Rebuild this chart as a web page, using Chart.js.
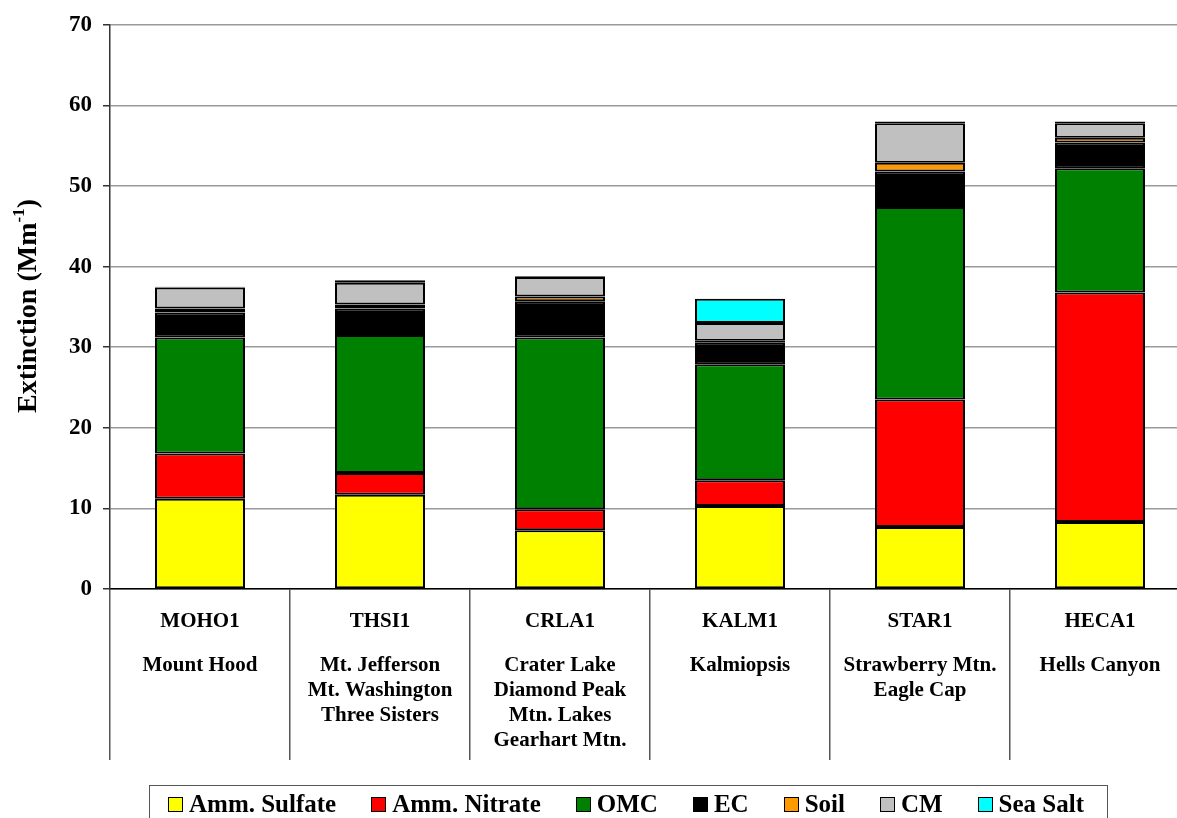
<!DOCTYPE html>
<html>
<head>
<meta charset="utf-8">
<script src="https://cdn.jsdelivr.net/npm/chart.js@4.4.1/dist/chart.umd.min.js"></script>
<style>
  html, body { margin: 0; padding: 0; background: #fff; overflow: hidden; }
  #wrap { position: relative; width: 1190px; height: 818px; }
  #legend {
    position: absolute; left: 149px; top: 785px; width: 959px; height: 40px;
    border: 1px solid #555; box-sizing: border-box;
    display: flex; align-items: flex-start; gap: 35px; padding-left: 18px; padding-top: 4px;
    font: bold 25px 'Liberation Serif', 'Times New Roman', serif; color: #000; line-height: 28px;
  }
  #legend .item { display: flex; align-items: center; white-space: nowrap; }
  #legend .sw { width: 13px; height: 13px; border: 1.5px solid #000; margin-right: 6px; }
</style>
</head>
<body>
<div id="wrap">
  <canvas id="barChart" width="1190" height="818"></canvas>
  <div id="legend"></div>
</div>
<script>
const categories = ['MOHO1', 'THSI1', 'CRLA1', 'KALM1', 'STAR1', 'HECA1'];
const siteNames = [
    ['Mount Hood'],
    ['Mt. Jefferson', 'Mt. Washington', 'Three Sisters'],
    ['Crater Lake', 'Diamond Peak', 'Mtn. Lakes', 'Gearhart Mtn.'],
    ['Kalmiopsis'],
    ['Strawberry Mtn.', 'Eagle Cap'],
    ['Hells Canyon']
];
const yTicks = [0, 10, 20, 30, 40, 50, 60, 70];

// extinction by species (Mm-1)
const ammSulfate = [11.2, 11.7, 7.3, 10.3, 7.7, 8.3];
const ammNitrate = [5.6, 2.7, 2.6, 3.2, 15.8, 28.5];
const omc = [14.4, 17.1, 21.3, 14.4, 23.9, 15.4];
const ec = [3.1, 3.3, 4.5, 2.7, 4.4, 3.2];
const soil = [0.5, 0.5, 0.6, 0.2, 1.1, 0.6];
const cm = [2.6, 2.7, 2.4, 2.2, 4.9, 1.8];
const seaSalt = [0.1, 0.3, 0.1, 3.0, 0.2, 0.2];

const series = [
    { label: 'Amm. Sulfate', data: ammSulfate, color: '#FFFF00' },
    { label: 'Amm. Nitrate', data: ammNitrate, color: '#FF0000' },
    { label: 'OMC', data: omc, color: '#008000' },
    { label: 'EC', data: ec, color: '#000000' },
    { label: 'Soil', data: soil, color: '#FF9900' },
    { label: 'CM', data: cm, color: '#C0C0C0' },
    { label: 'Sea Salt', data: seaSalt, color: '#00FFFF' }
];

const FONT = "'Liberation Serif', 'Times New Roman', serif";

// Draw site labels under the axis and the y title with superscript
const labelsPlugin = {
    id: 'siteLabels',
    afterDraw(chart) {
        const ctx = chart.ctx;
        const x = chart.scales.x;
        ctx.save();
        ctx.fillStyle = '#000';
        ctx.textAlign = 'center';
        ctx.textBaseline = 'middle';
        categories.forEach((code, i) => {
            const cx = x.getPixelForValue(i);
            ctx.font = 'bold 21px ' + FONT;
            ctx.fillText(code, cx, 622);
            siteNames[i].forEach((name, j) => {
                ctx.fillText(name, cx, 666 + j * 25);
            });
        });

        // y axis title
        const main = 'Extinction (Mm';
        const sup = '-1';
        const close = ')';
        ctx.font = 'bold 28px ' + FONT;
        const w1 = ctx.measureText(main).width;
        const w3 = ctx.measureText(close).width;
        ctx.font = 'bold 17px ' + FONT;
        const w2 = ctx.measureText(sup).width;
        const total = w1 + w2 + w3;
        ctx.translate(36, 306);
        ctx.rotate(-Math.PI / 2);
        ctx.textAlign = 'left';
        ctx.textBaseline = 'alphabetic';
        let px = -total / 2;
        ctx.font = 'bold 28px ' + FONT;
        ctx.fillText(main, px, 0);
        px += w1;
        ctx.font = 'bold 17px ' + FONT;
        ctx.fillText(sup, px, -12);
        px += w2;
        ctx.font = 'bold 28px ' + FONT;
        ctx.fillText(close, px, 0);
        ctx.restore();
    }
};

const ctx = document.getElementById('barChart').getContext('2d');
new Chart(ctx, {
    type: 'bar',
    data: {
        labels: categories,
        datasets: series.map(s => ({
            label: s.label,
            data: s.data,
            backgroundColor: s.color,
            borderColor: '#000',
            borderWidth: 2,
            borderSkipped: false,
            barPercentage: 0.5,
            categoryPercentage: 1.0
        }))
    },
    options: {
        responsive: false,
        animation: false,
        layout: { padding: { top: 19, left: 0, right: 0, bottom: 0 } },
        plugins: {
            legend: { display: false },
            tooltip: { enabled: false }
        },
        scales: {
            x: {
                stacked: true,
                offset: true,
                grid: {
                    offset: true,
                    drawOnChartArea: false,
                    drawTicks: true,
                    tickLength: 171,
                    color: '#555',
                    lineWidth: 1.5
                },
                border: { display: true, color: '#000', width: 1.5 },
                ticks: { display: false },
                afterFit: scale => { scale.height = 229; }
            },
            y: {
                stacked: true,
                min: 0,
                max: 70,
                afterBuildTicks: scale => { scale.ticks = yTicks.map(v => ({ value: v })); },
                ticks: {
                    color: '#000',
                    padding: 11,
                    font: { family: FONT, size: 23, weight: 'bold' }
                },
                grid: {
                    color: '#9a9a9a',
                    lineWidth: 1.5,
                    tickLength: 7,
                    tickColor: '#333'
                },
                border: { display: true, color: '#333', width: 1.5 },
                afterFit: scale => { scale.width = 110; }
            }
        }
    },
    plugins: [labelsPlugin]
});

// legend as html
const legendEl = document.getElementById('legend');
series.forEach(s => {
    const item = document.createElement('div');
    item.className = 'item';
    const sw = document.createElement('span');
    sw.className = 'sw';
    sw.style.background = s.color;
    item.appendChild(sw);
    item.appendChild(document.createTextNode(s.label));
    legendEl.appendChild(item);
});
</script>
</body>
</html>
